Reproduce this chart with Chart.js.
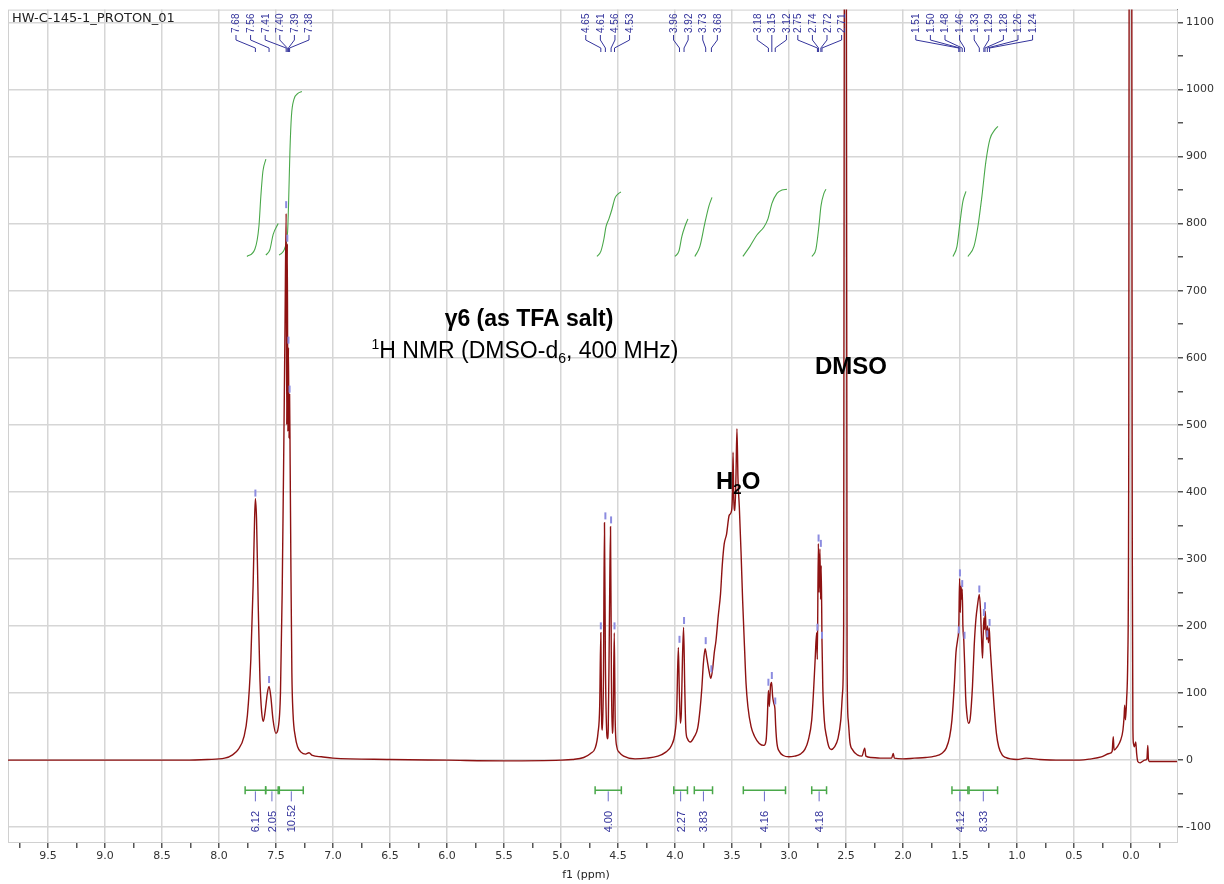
<!DOCTYPE html>
<html>
<head>
<meta charset="utf-8">
<script src="https://cdn.jsdelivr.net/npm/chart.js@4"></script>
<style>
  body { margin: 0; background: #fff; }
  #wrap { width: 1224px; height: 884px; position: relative; }
</style>
</head>
<body>
<div id="wrap"><canvas id="nmr"></canvas></div>
<script>
// 1H spectrum: [ppm, intensity]
const spectrum = [
  [9.85, 0], [9.3, 0], [8.7, 0], [8.3, 0], [8.1, 1], [7.95, 3], [7.88, 8], [7.83, 16],
  [7.78, 35], [7.75, 67], [7.72, 150], [7.70, 260], [7.687, 360], [7.68, 390], [7.67, 360],
  [7.655, 230], [7.64, 120], [7.625, 72], [7.61, 58], [7.595, 72], [7.575, 100], [7.56, 110],
  [7.545, 95], [7.525, 60], [7.50, 40], [7.48, 48], [7.46, 100], [7.445, 250], [7.43, 480],
  [7.42, 650], [7.41, 815], [7.405, 500], [7.40, 770], [7.395, 490], [7.39, 615],
  [7.385, 480], [7.38, 545], [7.375, 440], [7.368, 280], [7.36, 130], [7.35, 70],
  [7.33, 35], [7.31, 20], [7.28, 12], [7.24, 9], [7.21, 11], [7.18, 7], [7.1, 5],
  [7.0, 3], [6.5, 1], [6.0, 0], [5.5, -1], [5.0, 0], [4.9, 1], [4.8, 4], [4.74, 10],
  [4.70, 18], [4.675, 40], [4.66, 80], [4.65, 190], [4.643, 60], [4.636, 45], [4.627, 120],
  [4.618, 354], [4.61, 150], [4.598, 40], [4.592, 32], [4.585, 45], [4.575, 200],
  [4.565, 348], [4.557, 120], [4.55, 40], [4.542, 60], [4.532, 190], [4.524, 60],
  [4.51, 20], [4.49, 12], [4.45, 6], [4.35, 2], [4.25, 3], [4.15, 6], [4.08, 12],
  [4.03, 22], [4.00, 40], [3.985, 70], [3.97, 168], [3.961, 100], [3.952, 55], [3.944, 70],
  [3.934, 150], [3.924, 198], [3.914, 110], [3.904, 45], [3.89, 32], [3.865, 27],
  [3.83, 35], [3.80, 48], [3.78, 75], [3.765, 105], [3.75, 145], [3.735, 166], [3.72, 152],
  [3.70, 132], [3.685, 122], [3.67, 135], [3.655, 160], [3.64, 178], [3.62, 215],
  [3.60, 248], [3.585, 290], [3.568, 322], [3.547, 337], [3.524, 365], [3.503, 372],
  [3.495, 400], [3.49, 459], [3.484, 390], [3.474, 372], [3.465, 420], [3.456, 494],
  [3.447, 420], [3.435, 377], [3.42, 310], [3.406, 238], [3.39, 170], [3.376, 114],
  [3.36, 80], [3.332, 50], [3.30, 35], [3.26, 25], [3.22, 22], [3.20, 30], [3.19, 60],
  [3.18, 104], [3.172, 80], [3.162, 110], [3.152, 116], [3.143, 95], [3.133, 85],
  [3.123, 77], [3.116, 50], [3.105, 25], [3.08, 12], [3.05, 7], [3.00, 5], [2.95, 6],
  [2.90, 9], [2.86, 16], [2.83, 30], [2.80, 60], [2.785, 100], [2.77, 150], [2.757, 190],
  [2.751, 150], [2.742, 323], [2.736, 250], [2.728, 315], [2.722, 240], [2.717, 290],
  [2.71, 178], [2.703, 110], [2.69, 60], [2.67, 35], [2.65, 20], [2.63, 16], [2.60, 20],
  [2.57, 32], [2.545, 60], [2.53, 100], [2.52, 200], [2.512, 1500], [2.505, 5000],
  [2.498, 1500], [2.49, 150], [2.48, 60], [2.465, 27], [2.44, 15], [2.40, 8], [2.36, 6],
  [2.335, 18], [2.325, 6], [2.28, 4], [2.2, 3], [2.1, 3], [2.085, 10], [2.075, 3],
  [2.0, 2], [1.9, 3], [1.8, 4], [1.72, 6], [1.66, 10], [1.62, 18], [1.59, 35], [1.57, 60],
  [1.55, 110], [1.535, 160], [1.52, 180], [1.51, 200], [1.503, 271], [1.497, 220],
  [1.49, 260], [1.484, 240], [1.48, 255], [1.474, 200], [1.466, 178], [1.458, 140],
  [1.45, 95], [1.44, 70], [1.425, 55], [1.41, 62], [1.39, 110], [1.375, 170], [1.36, 210],
  [1.345, 232], [1.33, 247], [1.32, 225], [1.31, 180], [1.302, 152], [1.296, 185],
  [1.29, 212], [1.284, 195], [1.278, 222], [1.27, 190], [1.264, 180], [1.258, 200],
  [1.25, 175], [1.243, 197], [1.235, 170], [1.22, 130], [1.20, 80], [1.18, 40],
  [1.16, 20], [1.13, 8], [1.10, 4], [1.0, 1], [0.92, 3], [0.85, 2], [0.8, 1], [0.6, 0],
  [0.45, 0], [0.35, 2], [0.26, 5], [0.19, 10], [0.165, 13], [0.155, 35], [0.148, 15],
  [0.12, 20], [0.09, 30], [0.07, 45], [0.06, 65], [0.055, 82], [0.048, 60], [0.038, 90],
  [0.028, 150], [0.02, 400], [0.012, 2000], [0.004, 8000], [-0.004, 2000], [-0.012, 300],
  [-0.018, 40], [-0.022, 25], [-0.03, 20], [-0.042, 27], [-0.05, 10], [-0.06, -2],
  [-0.08, -4], [-0.1, -2], [-0.12, 0], [-0.14, 2], [-0.148, 22], [-0.153, 2], [-0.16, -2],
  [-0.25, -2], [-0.404, -2]
];

// integral curves (green), [ppm, height on the intensity axis]
const integralCurves = [
  [[7.754, 751], [7.684, 762], [7.649, 796], [7.632, 841], [7.614, 878], [7.588, 896]],
  [[7.588, 753], [7.553, 761], [7.524, 784], [7.48, 800]],
  [[7.471, 753], [7.421, 764], [7.397, 789], [7.389, 829], [7.377, 908], [7.364, 960],
   [7.342, 985], [7.307, 994], [7.272, 997]],
  [[4.684, 751], [4.649, 759], [4.623, 777], [4.605, 795], [4.579, 807], [4.553, 821],
   [4.526, 838], [4.50, 844], [4.474, 847]],
  [[4.0, 751], [3.965, 759], [3.939, 781], [3.912, 796], [3.886, 807]],
  [[3.825, 751], [3.781, 766], [3.737, 801], [3.702, 826], [3.675, 839]],
  [[3.404, 751], [3.342, 766], [3.281, 783], [3.219, 795], [3.184, 807], [3.149, 830],
   [3.105, 845], [3.061, 850], [3.018, 851]],
  [[2.798, 751], [2.763, 762], [2.737, 796], [2.719, 826], [2.693, 845], [2.675, 851]],
  [[1.561, 751], [1.526, 766], [1.50, 801], [1.474, 833], [1.447, 848]],
  [[1.43, 751], [1.377, 766], [1.342, 796], [1.307, 841], [1.272, 893], [1.237, 926],
   [1.193, 940], [1.167, 945]]
];

// integral regions and their values
const intFrom = [7.77, 7.59, 7.47, 4.70, 4.01, 3.83, 3.40, 2.80, 1.57, 1.42];
const intTo = [7.59, 7.48, 7.26, 4.47, 3.89, 3.67, 3.03, 2.67, 1.43, 1.17];
const intValues = ['6.12', '2.05', '10.52', '4.00', '2.27', '3.83', '4.16', '4.18', '4.12', '8.33'];

// picked peaks, grouped as in the label fans at the top
const peakGroups = [
  [7.68, 7.56, 7.41, 7.40, 7.39, 7.38],
  [4.65, 4.61, 4.56, 4.53],
  [3.96, 3.92, 3.73, 3.68],
  [3.18, 3.15, 3.12],
  [2.75, 2.74, 2.72, 2.71],
  [1.51, 1.50, 1.48, 1.46, 1.33, 1.29, 1.28, 1.26, 1.24]
];
const peakTops = [
  [390, 112, 820, 770, 618, 545],
  [192, 356, 350, 192],
  [172, 200, 170, 128],
  [108, 118, 80],
  [190, 323, 315, 178],
  [186, 271, 255, 178, 247, 212, 222, 180, 197]
];

const BLUE = '#34349c';
const GREEN = '#4aa84a';
const LABEL_FONT = '"DejaVu Sans", sans-serif';
const SMALL_FONT = '"Liberation Sans", Arial, sans-serif';

function drawRuns(ctx, runs, x, y, align) {
  // runs: [text, font, dy]
  let total = 0;
  runs.forEach(r => { ctx.font = r[1]; total += ctx.measureText(r[0]).width; });
  let cx = align === 'center' ? x - total / 2 : x;
  ctx.textAlign = 'left';
  ctx.textBaseline = 'alphabetic';
  runs.forEach(r => {
    ctx.font = r[1];
    ctx.fillText(r[0], cx, y + r[2]);
    cx += ctx.measureText(r[0]).width;
  });
}

const nmrExtras = {
  id: 'nmrExtras',
  beforeDatasetsDraw(chart) {
    const { ctx, chartArea: a } = chart;
    ctx.save();
    ctx.strokeStyle = '#d0d0d0';
    ctx.lineWidth = 1;
    ctx.strokeRect(a.left + 0.5, a.top + 0.5, a.right - a.left, a.bottom - a.top);
    ctx.restore();
  },
  afterDatasetsDraw(chart) {
    const { ctx, scales: { x, y } } = chart;
    ctx.save();

    // peak markers + label fans
    peakGroups.forEach((grp, gi) => {
      const px = grp.map(p => x.getPixelForValue(p));
      const mid = (Math.min(...px) + Math.max(...px)) / 2;
      const step = 14.6;
      grp.forEach((p, i) => {
        const lx = mid + (i - (grp.length - 1) / 2) * step;
        const xp = px[i];
        ctx.strokeStyle = '#8c8ce0';
        ctx.lineWidth = 2;
        const yt = y.getPixelForValue(peakTops[gi][i]);
        ctx.beginPath();
        ctx.moveTo(xp, yt - 2);
        ctx.lineTo(xp, yt - 9);
        ctx.stroke();

        ctx.strokeStyle = BLUE;
        ctx.lineWidth = 1;
        ctx.beginPath();
        ctx.moveTo(lx, 35);
        ctx.lineTo(lx, 40);
        ctx.lineTo(xp, 48);
        ctx.lineTo(xp, 52);
        ctx.stroke();

        ctx.save();
        ctx.translate(lx + 3.5, 33);
        ctx.rotate(-Math.PI / 2);
        ctx.fillStyle = BLUE;
        ctx.font = '10px ' + SMALL_FONT;
        ctx.textAlign = 'left';
        ctx.textBaseline = 'alphabetic';
        ctx.fillText(p.toFixed(2), 0, 0);
        ctx.restore();
      });
    });

    // integral bars and values
    const by = y.getPixelForValue(-45);
    intFrom.forEach((f, i) => {
      const x1 = x.getPixelForValue(f);
      const x2 = x.getPixelForValue(intTo[i]);
      const cx = (x1 + x2) / 2;
      ctx.strokeStyle = GREEN;
      ctx.lineWidth = 1.5;
      ctx.beginPath();
      ctx.moveTo(x1, by); ctx.lineTo(x2, by);
      ctx.moveTo(x1, by - 4); ctx.lineTo(x1, by + 4);
      ctx.moveTo(x2, by - 4); ctx.lineTo(x2, by + 4);
      ctx.stroke();
      ctx.strokeStyle = '#6a6ac8';
      ctx.lineWidth = 1;
      ctx.beginPath();
      ctx.moveTo(cx, by + 1); ctx.lineTo(cx, by + 11);
      ctx.stroke();
      ctx.save();
      ctx.translate(cx + 4, by + 42);
      ctx.rotate(-Math.PI / 2);
      ctx.fillStyle = BLUE;
      ctx.font = '11px ' + SMALL_FONT;
      ctx.textAlign = 'left';
      ctx.fillText(intValues[i], 0, 0);
      ctx.restore();
    });

    // annotations
    ctx.fillStyle = '#000';
    ctx.textAlign = 'center';
    ctx.font = 'bold 23px "Liberation Sans", Arial, sans-serif';
    ctx.fillText('γ6 (as TFA salt)', 529, 326);
    const n = '23px "Liberation Sans", Arial, sans-serif';
    const s = '14px "Liberation Sans", Arial, sans-serif';
    drawRuns(ctx, [['1', s, -9], ['H NMR (DMSO-d', n, 0], ['6', s, 5], [', 400 MHz)', n, 0]], 525, 358, 'center');
    ctx.font = 'bold 24px "Liberation Sans", Arial, sans-serif';
    ctx.textAlign = 'left';
    ctx.fillText('DMSO', 815, 374);
    const hb = 'bold 24px "Liberation Sans", Arial, sans-serif';
    const hs = 'bold 15px "Liberation Sans", Arial, sans-serif';
    drawRuns(ctx, [['H', hb, 0], ['2', hs, 5], ['O', hb, 0]], 716, 489, 'left');

    ctx.restore();
  },
  afterDraw(chart) {
    const { ctx } = chart;
    ctx.save();
    ctx.fillStyle = '#222';
    ctx.font = '13px ' + LABEL_FONT;
    ctx.textAlign = 'left';
    ctx.textBaseline = 'alphabetic';
    ctx.fillText('HW-C-145-1_PROTON_01', 12, 22);
    ctx.font = '11px ' + LABEL_FONT;
    ctx.textAlign = 'center';
    ctx.fillText('f1 (ppm)', 586, 878);
    ctx.restore();
  }
};

const datasets = [{
  data: spectrum.map(p => ({ x: p[0], y: p[1] })),
  borderColor: '#8e1212',
  borderWidth: 1.4,
  pointRadius: 0,
  cubicInterpolationMode: 'monotone',
  order: 1
}];
integralCurves.forEach(c => {
  datasets.push({
    data: c.map(p => ({ x: p[0], y: p[1] })),
    borderColor: GREEN,
    borderWidth: 1.1,
    pointRadius: 0,
    cubicInterpolationMode: 'monotone',
    order: 2
  });
});

const isMajor = (v, m) => Math.abs(v / m - Math.round(v / m)) < 1e-6;

new Chart(document.getElementById('nmr').getContext('2d'), {
  type: 'line',
  data: { datasets },
  plugins: [nmrExtras],
  options: {
    responsive: true,
    maintainAspectRatio: false,
    animation: false,
    layout: { padding: { left: 8, top: 8, right: 0, bottom: 0 } },
    plugins: { legend: { display: false }, tooltip: { enabled: false } },
    scales: {
      x: {
        type: 'linear',
        reverse: true,
        min: -0.404,
        max: 9.85,
        afterFit: s => { s.height = 42; },
        border: { display: true, color: '#555' },
        grid: {
          color: c => isMajor(c.tick.value, 0.5) ? '#d6d6d6' : 'transparent',
          lineWidth: 1.5,
          tickColor: '#555',
          tickLength: 6
        },
        ticks: {
          stepSize: 0.25,
          includeBounds: false,
          autoSkip: false,
          maxRotation: 0,
          padding: 2,
          color: '#333',
          font: { family: 'DejaVu Sans', size: 11 },
          callback: v => isMajor(v, 0.5) ? Math.abs(v).toFixed(1) : ''
        }
      },
      y: {
        type: 'linear',
        position: 'right',
        min: -122,
        max: 1119,
        afterFit: s => { s.width = 47; },
        border: { display: true, color: '#555' },
        grid: {
          color: c => isMajor(c.tick.value, 100) ? '#d6d6d6' : 'transparent',
          lineWidth: 1.5,
          tickColor: '#555',
          tickLength: 6
        },
        ticks: {
          stepSize: 50,
          includeBounds: false,
          autoSkip: false,
          padding: 3,
          color: '#333',
          font: { family: 'DejaVu Sans', size: 11 },
          callback: v => isMajor(v, 100) ? String(v) : ''
        }
      }
    }
  }
});
</script>
</body>
</html>
